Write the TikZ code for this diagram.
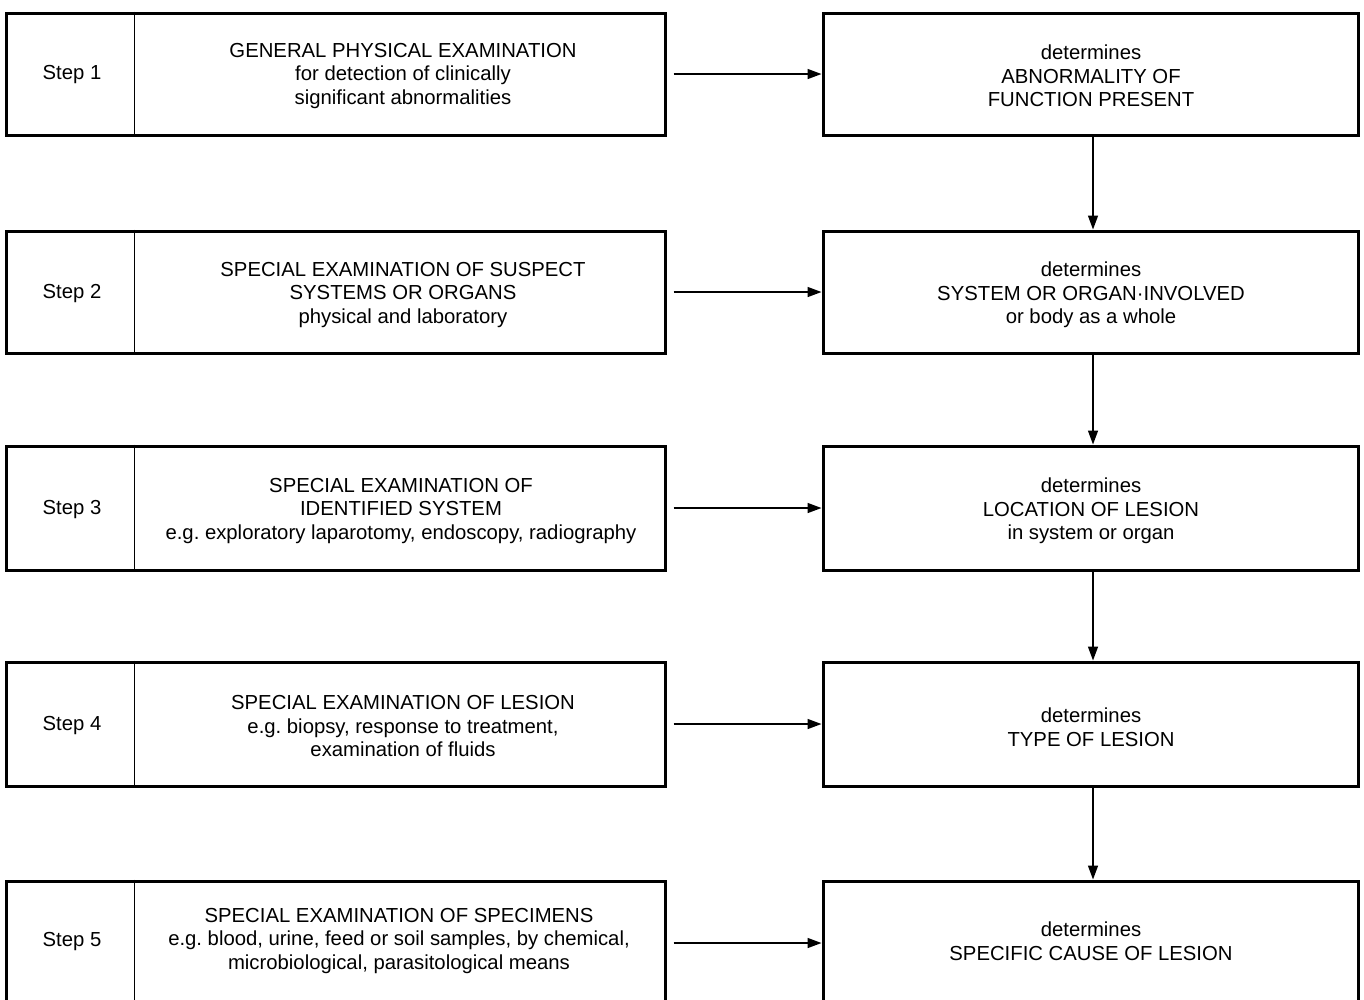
\documentclass[tikz,border=0pt]{standalone}
\usepackage{fontspec}
\setmainfont{Liberation Sans}
\usetikzlibrary{arrows.meta}
\begin{document}
\begin{tikzpicture}[x=1pt,y=-1pt,
  outer/.style={draw, line width=3pt, rectangle, inner sep=0pt},
  lbox/.style={outer, minimum width=659pt},
  rbox/.style={outer, minimum width=535pt},
  divider/.style={line width=1.4pt},
  lbl/.style={align=center, inner sep=0pt, font=\fontsize{20.3}{23.5}\selectfont},
  harrow/.style={line width=1.5pt, -{Triangle[length=14pt,width=10pt]}},
  varrow/.style={line width=1.4pt, -{Triangle[length=14pt,width=10pt]}}
]
\useasboundingbox (0,0) rectangle (1364,999);
\clip (0,0) rectangle (1364,999);
% row boxes
\node[lbox, minimum height=122pt] (L1) at (335.5,74) {};
\node[rbox, minimum height=122pt] (R1) at (1090.5,74) {};
\node[lbox, minimum height=122pt] (L2) at (335.5,292) {};
\node[rbox, minimum height=122pt] (R2) at (1090.5,292) {};
\node[lbox, minimum height=124pt] (L3) at (335.5,508) {};
\node[rbox, minimum height=124pt] (R3) at (1090.5,508) {};
\node[lbox, minimum height=124pt] (L4) at (335.5,724) {};
\node[rbox, minimum height=124pt] (R4) at (1090.5,724) {};
\node[lbox, minimum height=124pt] (L5) at (335.5,943) {};
\node[rbox, minimum height=124pt] (R5) at (1090.5,943) {};
% dividers
\foreach \r in {1,...,5}{
  \draw[divider] ([xshift=130pt]L\r.north west) -- ([xshift=130pt]L\r.south west);
}
% step labels
\node[lbl] (S1) at (72,75) {Step 1};
\node[lbl] (S2) at (72,294) {Step 2};
\node[lbl] (S3) at (72,510) {Step 3};
\node[lbl] (S4) at (72,726) {Step 4};
\node[lbl] (S5) at (72,942) {Step 5};
% middle texts
\node[lbl] (M1) at (403,76) {GENERAL PHYSICAL EXAMINATION\\for detection of clinically\\significant abnormalities};
\node[lbl] (M2) at (403,295) {SPECIAL EXAMINATION OF SUSPECT\\SYSTEMS OR ORGANS\\physical and laboratory};
\node[lbl] (M3) at (401,511) {SPECIAL EXAMINATION OF\\IDENTIFIED SYSTEM\\e.g.\ exploratory laparotomy, endoscopy, radiography};
\node[lbl] (M4) at (403,726) {SPECIAL EXAMINATION OF LESION\\e.g.\ biopsy, response to treatment,\\examination of fluids};
\node[lbl] (M5) at (399,941) {SPECIAL EXAMINATION OF SPECIMENS\\e.g.\ blood, urine, feed or soil samples, by chemical,\\microbiological, parasitological means};
% right texts
\node[lbl] (T1) at (1091,76) {determines\\ABNORMALITY OF\\FUNCTION PRESENT};
\node[lbl] (T2) at (1091,295) {determines\\SYSTEM OR ORGAN·INVOLVED\\or body as a whole};
\node[lbl] (T3) at (1091,511) {determines\\LOCATION OF LESION\\in system or organ};
\node[lbl] (T4) at (1091,727) {determines\\TYPE OF LESION};
\node[lbl] (T5) at (1091,941) {determines\\SPECIFIC CAUSE OF LESION};
% horizontal arrows
\foreach \r in {1,...,5}{
  \draw[harrow] ([xshift=7pt]L\r.east) -- (R\r.west);
}
% vertical arrows
\draw[varrow] ([xshift=2.5pt]R1.south) -- ([xshift=2.5pt]R2.north);
\draw[varrow] ([xshift=2.5pt]R2.south) -- ([xshift=2.5pt]R3.north);
\draw[varrow] ([xshift=2.5pt]R3.south) -- ([xshift=2.5pt]R4.north);
\draw[varrow] ([xshift=2.5pt]R4.south) -- ([xshift=2.5pt]R5.north);
\end{tikzpicture}
\end{document}
